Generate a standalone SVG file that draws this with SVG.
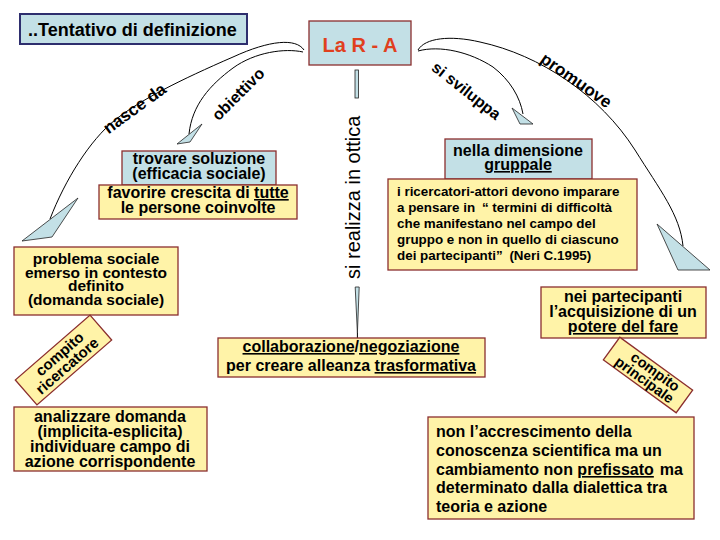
<svg xmlns="http://www.w3.org/2000/svg" width="720" height="540" viewBox="0 0 720 540">
<style>
text { font-family: "Liberation Sans", Arial, sans-serif; fill: #000; }
.b { font-weight: bold; }
.m { text-anchor: middle; }
.blue { fill: #C3E0E6; stroke: #8B2E2E; stroke-width: 1.3; }
.yel { fill: #FFF3A8; stroke: #8B2E2E; stroke-width: 1.3; }
.con { fill: none; stroke: #000; stroke-width: 1; }
.head { fill: #C3E0E6; stroke: #222; stroke-width: 0.8; stroke-linejoin: round; }
.u { text-decoration: underline; }
</style>
<rect width="720" height="540" fill="#fff"/>

<g id="connectors">
  <!-- left: nasce da -->
  <path class="con" d="M 304 50 C 296 38 270 40 233 57 C 180 80 140 100 115 120 C 90 140 65 180 50 219"/>
  <polygon class="head" points="78,198 22,241 52,237"/>
  <!-- left: obiettivo -->
  <path class="con" d="M 303 52 C 285 48 255 52 233 68 C 210 85 192 105 189 134"/>
  <polygon class="head" points="202,124 177,144 190,142"/>
  <!-- right: promuove -->
  <path class="con" d="M 418 50 C 425 38 450 35 480 42 C 540 55 600 95 635 150 C 660 190 680 215 683 246"/>
  <polygon class="head" points="657,224 710,270 678,270"/>
  <!-- right: si sviluppa -->
  <path class="con" d="M 418 51 C 440 45 470 52 493 67 C 510 80 520 97 523 114"/>
  <polygon class="head" points="512,108 533,124 520,124"/>
  <!-- vertical: si realizza in ottica -->
  <rect x="355" y="70" width="3.5" height="28" fill="#C3E0E6" stroke="#222" stroke-width="0.8"/>
  <polygon class="head" points="355.2,287 359.2,287 357.4,333"/>
  <line x1="357.4" y1="333" x2="357.4" y2="338" stroke="#000" stroke-width="1"/>

  <text class="b m" font-size="17" transform="translate(138,113) rotate(-36)">nasce da</text>
  <text class="b m" font-size="16" transform="translate(242,98) rotate(-45)">obiettivo</text>
  <text class="b m" font-size="16" transform="translate(463,95) rotate(38)">si sviluppa</text>
  <text class="b m" font-size="17" transform="translate(573,85) rotate(35)">promuove</text>
  <text font-size="20" transform="translate(360,279) rotate(-90)">si realizza in ottica</text>
</g>

<g id="title">
  <rect x="20" y="14" width="227" height="30" fill="#C3E0E6" stroke="#2E2E6E" stroke-width="2"/>
  <text class="b" x="28" y="36" font-size="18">..Tentativo di definizione</text>
</g>

<g id="la-ra">
  <rect class="blue" x="309" y="21" width="102" height="44" stroke-width="1.5"/>
  <text class="b m" x="360" y="52" font-size="20" style="fill:#E0401E">La R - A</text>
</g>

<g id="trovare">
  <rect class="blue" x="122" y="151" width="154" height="34"/>
  <text class="b m" x="199" y="164" font-size="16">trovare soluzione</text>
  <text class="b m" x="199" y="179" font-size="16">(efficacia sociale)</text>
</g>

<g id="favorire">
  <rect class="yel" x="99" y="185" width="198" height="34"/>
  <text class="b m" x="198" y="198" font-size="16">favorire crescita di <tspan class="u">tutte</tspan></text>
  <text class="b m" x="198" y="213" font-size="16">le persone coinvolte</text>
</g>

<g id="problema">
  <rect class="yel" x="14" y="247" width="164" height="68"/>
  <text class="b m" x="96" y="264" font-size="15.5">problema sociale</text>
  <text class="b m" x="96" y="277.5" font-size="15.5">emerso in contesto</text>
  <text class="b m" x="96" y="291" font-size="15.5">definito</text>
  <text class="b m" x="96" y="304.5" font-size="15.5">(domanda sociale)</text>
</g>

<g id="compito-ricercatore" transform="translate(63.5,360) rotate(-41)">
  <rect class="yel" x="-49.5" y="-16.5" width="99" height="33"/>
  <text class="b m" x="1" y="-2" font-size="15">compito</text>
  <text class="b m" x="-1" y="12" font-size="15">ricercatore</text>
</g>

<g id="analizzare">
  <rect class="yel" x="14" y="407" width="193" height="64"/>
  <text class="b m" x="110" y="422" font-size="16">analizzare domanda</text>
  <text class="b m" x="110" y="437" font-size="16">(implicita-esplicita)</text>
  <text class="b m" x="110" y="452" font-size="16">individuare campo di</text>
  <text class="b m" x="110" y="467" font-size="16">azione corrispondente</text>
</g>

<g id="nella">
  <rect class="blue" x="445" y="139" width="147" height="40"/>
  <text class="b m" x="518" y="156" font-size="16">nella dimensione</text>
  <text class="b m" x="518" y="170" font-size="16"><tspan class="u">gruppale</tspan></text>
</g>

<g id="ricercatori">
  <rect class="yel" x="388" y="179" width="249" height="91"/>
  <text class="b" x="397" y="196" font-size="13.4">i ricercatori-attori devono imparare</text>
  <text class="b" x="397" y="212" font-size="13.4">a pensare in <tspan dx="3">“ termini di difficoltà</tspan></text>
  <text class="b" x="397" y="228" font-size="13.4">che manifestano nel campo del</text>
  <text class="b" x="397" y="244" font-size="13.4">gruppo e non in quello di ciascuno</text>
  <text class="b" x="397" y="260" font-size="13.4">dei partecipanti” <tspan dx="3">(Neri C.1995)</tspan></text>
</g>

<g id="partecipanti">
  <rect class="yel" x="541" y="287" width="165" height="51"/>
  <text class="b m" x="623" y="302" font-size="16">nei partecipanti</text>
  <text class="b m" x="623" y="317" font-size="16">l’acquisizione di un</text>
  <text class="b m" x="623" y="332" font-size="16"><tspan class="u">potere del fare</tspan></text>
</g>

<g id="compito-principale" transform="translate(648,375) rotate(36)">
  <rect class="yel" x="-45" y="-14" width="90" height="28"/>
  <text class="b m" x="4" y="-2" font-size="14.5">compito</text>
  <text class="b m" x="0" y="11" font-size="14.5">principale</text>
</g>

<g id="collaborazione">
  <rect class="yel" x="218" y="338" width="267" height="39"/>
  <text class="b m" x="351" y="352" font-size="16"><tspan class="u">collaborazione</tspan>/<tspan class="u">negoziazione</tspan></text>
  <text class="b m" x="351" y="371" font-size="16">per creare alleanza <tspan class="u">trasformativa</tspan></text>
</g>

<g id="accrescimento">
  <rect class="yel" x="428" y="417" width="266" height="102"/>
  <text class="b" x="436" y="437" font-size="16">non l’accrescimento della</text>
  <text class="b" x="436" y="456" font-size="16">conoscenza scientifica ma un</text>
  <text class="b" x="436" y="475" font-size="16">cambiamento non <tspan class="u">prefissato</tspan><tspan dx="6">ma</tspan></text>
  <text class="b" x="436" y="493" font-size="16">determinato dalla dialettica tra</text>
  <text class="b" x="436" y="512" font-size="16">teoria e azione</text>
</g>
</svg>
